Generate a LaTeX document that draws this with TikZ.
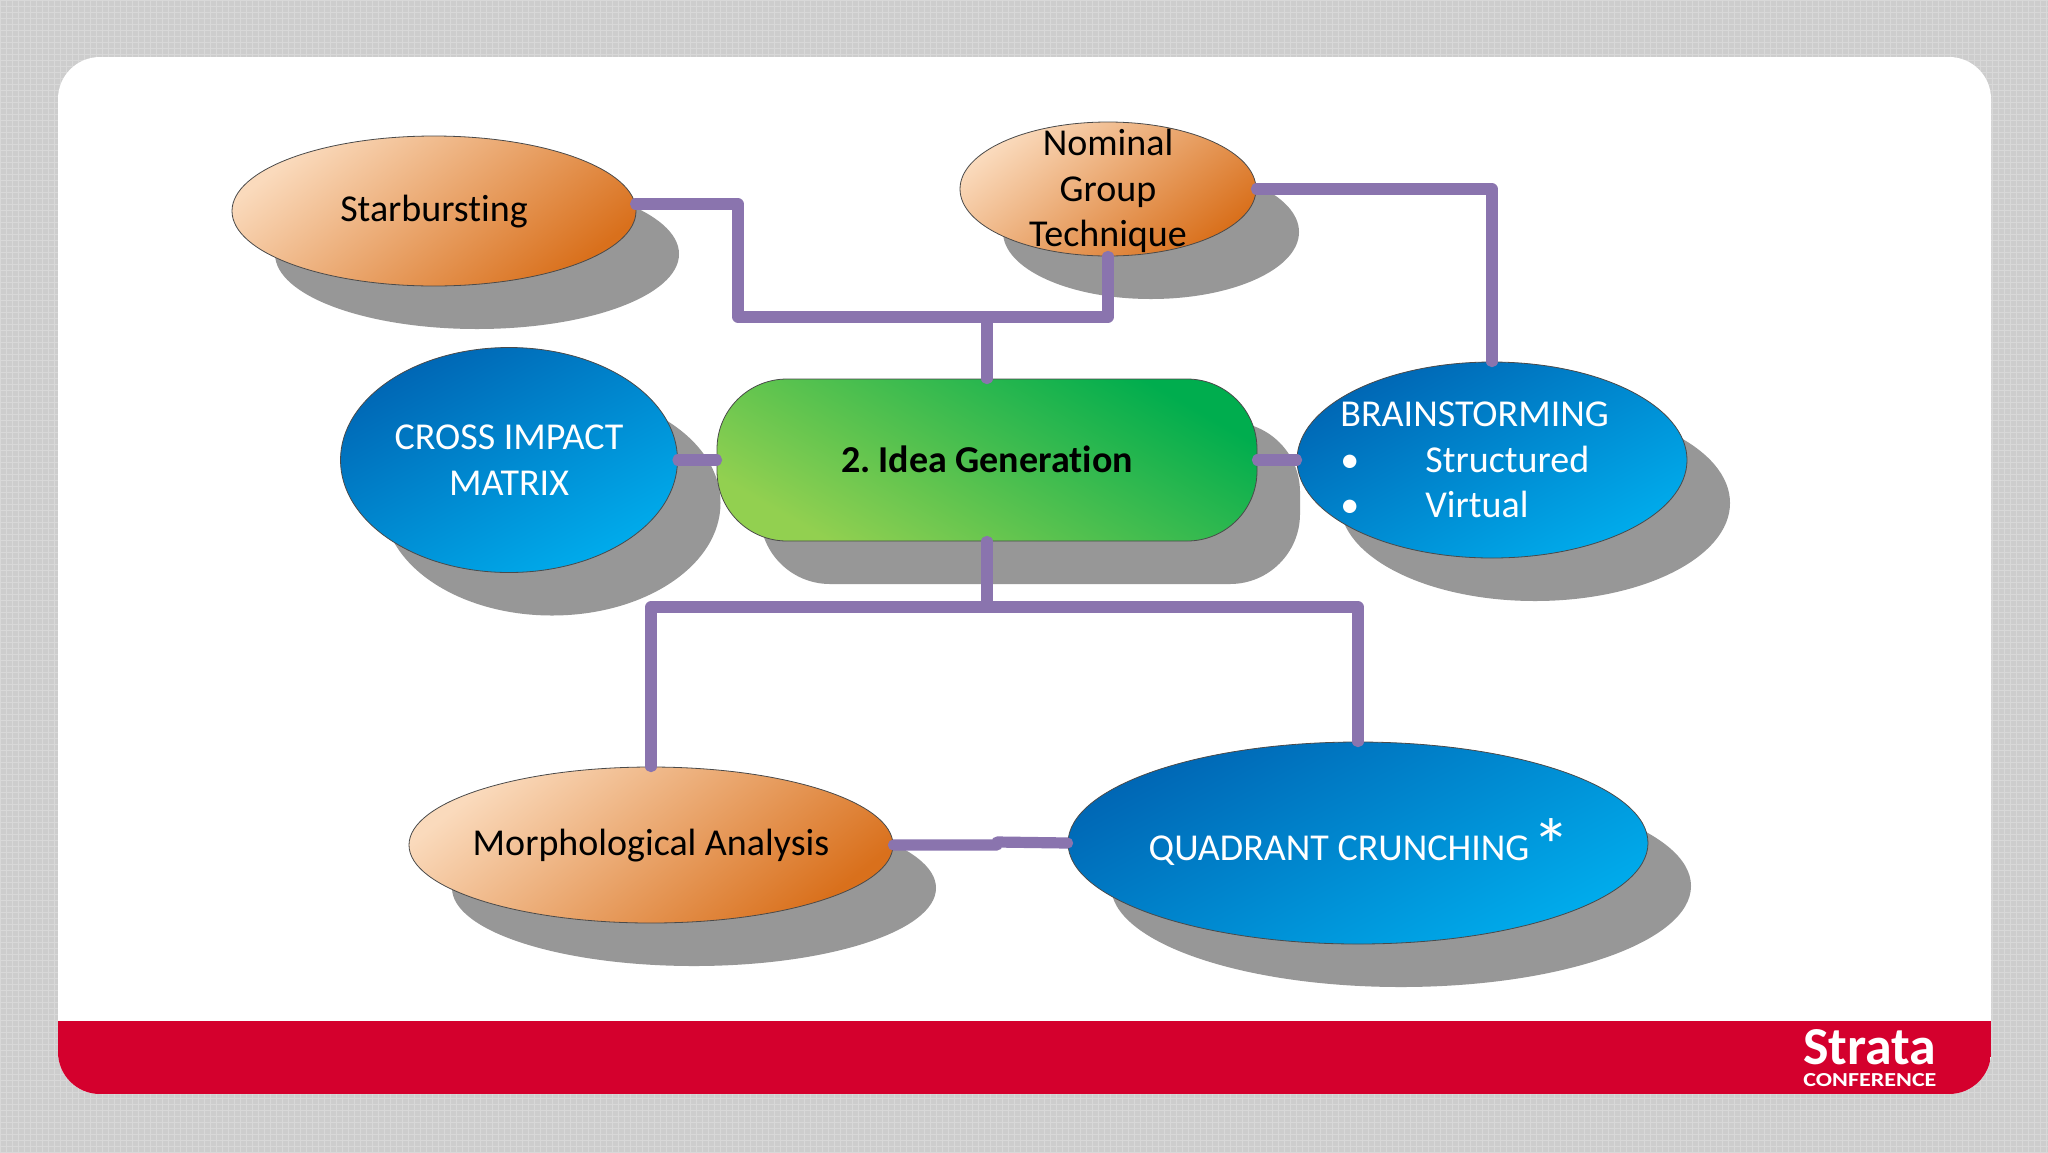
\documentclass[tikz,border=0pt]{standalone}
\usepackage{fontspec}
\setmainfont[Ligatures=NoCommon]{Carlito}
\usetikzlibrary{shapes.geometric,calc}
\definecolor{bgc}{HTML}{CDCDCD}
\definecolor{bgl}{HTML}{D8D8D8}
\definecolor{redb}{HTML}{D4002D}
\definecolor{shadowc}{HTML}{979797}
\definecolor{purp}{HTML}{8A74AE}
\definecolor{edgec}{HTML}{4A4A4A}
\tikzset{
  x=0.5pt,y=-0.5pt,
  txt/.style={font=\fontsize{19}{22.8}\selectfont,align=center,text=#1,inner sep=0pt},
  orange/.style={ellipse,draw=edgec,line width=0.4pt,inner sep=0pt,left color=orL,right color=orD,shading angle=38},
  blue/.style={ellipse,draw=edgec,line width=0.4pt,inner sep=0pt,left color=blD,right color=blL,shading angle=28},
  conn/.style={draw=purp,line width=5.6pt,line cap=round,line join=round},
  shadowfill/.style={fill=shadowc},
}
\definecolor{orL}{HTML}{FADABC}
\definecolor{orD}{HTML}{D9701C}
\definecolor{blD}{HTML}{0066B4}
\definecolor{blL}{HTML}{00ACEC}
\definecolor{grL}{HTML}{92D050}
\definecolor{grD}{HTML}{00AD4E}
\begin{document}
\begin{tikzpicture}
\useasboundingbox (0,0) rectangle (2048,1152);
% textured background
\fill[bgc] (0,0) rectangle (2048,1152);
\foreach \i in {0,6,...,2048} \draw[bgl,line width=0.5pt] (\i,0) -- (\i,1152);
\foreach \i in {0,6,...,1152} \draw[bgl,line width=0.5pt] (0,\i) -- (2048,\i);
% card and band
\fill[white,rounded corners=21pt] (58,57) rectangle (1991,1094);
\begin{scope}
  \clip[rounded corners=21pt] (58,57) rectangle (1991,1094);
  \fill[redb] (58,1021) rectangle (1991,1094);
\end{scope}
% shadows
\fill[shadowfill] (477,254) ellipse [x radius=202,y radius=75];
\fill[shadowfill] (1151,232) ellipse [x radius=148,y radius=67];
\fill[shadowfill] (552,503) ellipse [x radius=168.5,y radius=112.5];
\fill[shadowfill,rounded corners=35pt] (760,422) rectangle (1300,584);
\fill[shadowfill] (1535,503) ellipse [x radius=195,y radius=98];
\fill[shadowfill] (694,888) ellipse [x radius=242,y radius=78];
\fill[shadowfill] (1401,886) ellipse [x radius=290,y radius=101];
% nodes
\node[orange,minimum width=202pt,minimum height=75pt] (star) at (434,211) {};
\node[orange,minimum width=148pt,minimum height=67pt] (nom) at (1108,189) {};
\node[blue,minimum width=168.5pt,minimum height=112.5pt] (cross) at (509,460) {};
\node[draw=edgec,line width=0.4pt,rounded corners=35pt,minimum width=270pt,minimum height=81pt,inner sep=0pt,
      left color=grL,right color=grD,shading angle=150] (green) at (987,460) {};
\node[blue,minimum width=195pt,minimum height=98pt] (brain) at (1492,460) {};
\node[orange,minimum width=242pt,minimum height=78pt] (morph) at (651,845) {};
\node[blue,minimum width=290pt,minimum height=101pt] (quad) at (1358,843) {};
% texts
\node[txt=black] (starT) at (434,212) {Starbursting};
\node[txt=black] (nomT) at (1108,191) {Nominal\\Group\\Technique};
\node[txt=white] (crossT) at (509,460) {CROSS IMPACT\\MATRIX};
\node[txt=black] (greenT) at (987,459) {\textbf{2.\hspace{4pt}Idea Generation}};
\node[txt=white,align=left,anchor=west] (brainT) at (1340,460) {BRAINSTORMING\\\makebox[42.5pt][l]{\textbullet}Structured\\\makebox[42.5pt][l]{\textbullet}Virtual};
\node[txt=black] (morphT) at (651,846) {Morphological Analysis};
\node[txt=white] (quadT) at (1339,851) {QUADRANT CRUNCHING};
\node[txt=white,font=\fontsize{38}{38}\selectfont,anchor=center] (quadS) at (1551,846) {*};
% logo
\node[inner sep=0pt,text=white,anchor=south west] (logoA) at (1803,1065) {\resizebox{66.5pt}{17.5pt}{\bfseries Strata}};
\node[inner sep=0pt,text=white,anchor=south west] (logoB) at (1803,1087) {\resizebox{66.5pt}{6.5pt}{\bfseries CONFERENCE}};
% junctions
\coordinate (bendA) at (738,317);
\coordinate (jt) at (987,317);
\coordinate (jb) at (987,607);
\coordinate (stepA) at (997,845);
\coordinate (stepB) at (997,842);
% connectors
\draw[conn] (star.2) -| (bendA) -- (jt) -| (nom.south);
\draw[conn] (jt) -- (green.north);
\draw[conn] (nom.east) -| (brain.north);
\draw[conn] (cross.east) -- (green.west);
\draw[conn] (green.east) -- (brain.west);
\draw[conn] (green.south) -- (jb);
\draw[conn] (morph.north) |- (jb) -| (quad.north);
\draw[conn] (morph.east) -- (stepA) -- (stepB) -- (quad.west);
\end{tikzpicture}
\end{document}
